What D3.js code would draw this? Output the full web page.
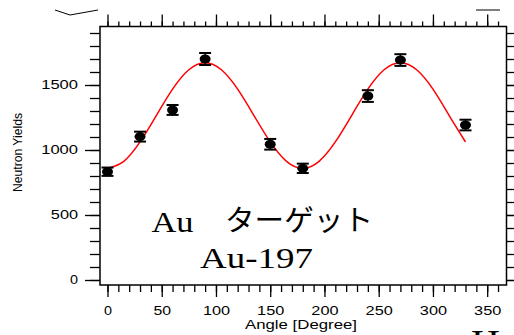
<!DOCTYPE html>
<html>
<head>
<meta charset="utf-8">
<script src="https://cdn.jsdelivr.net/npm/d3@7"></script>
<style>
  body { margin: 0; background: #fff; }
  svg { display: block; }
  .tick text { font-family: "Liberation Sans", Arial, sans-serif; font-size: 12px; fill: #000; }
</style>
</head>
<body>
<div id="svg-area"></div>
<script>
// measured points (angle in degrees, neutron yield, error)
var angles = [0, 30, 60, 90, 150, 180, 240, 270, 330];
var yields = [833, 1103, 1308, 1700, 1044, 859, 1415, 1692, 1192];
var errors = [32, 38, 38, 46, 41, 36, 45, 45, 41];

// red fit curve, read every 15 degrees
var fitAngles = [0, 15, 30, 45, 60, 75, 90, 105, 120, 135, 150, 165, 180, 195, 210, 225, 240, 255, 270, 285, 300, 315, 330];
var fitValues = [859, 913, 1062, 1265, 1468, 1617, 1671, 1617, 1468, 1265, 1062, 913, 859, 913, 1062, 1265, 1468, 1617, 1671, 1617, 1468, 1265, 1062];

var xTicks = [0, 50, 100, 150, 200, 250, 300, 350];
var yTicks = [0, 500, 1000, 1500];

var svgWidth = 514;
var svgHeight = 335;

var frame = { left: 100, right: 506.5, top: 26.5, bottom: 285 };

var svg = d3.select("#svg-area")
  .append("svg")
  .attr("width", svgWidth)
  .attr("height", svgHeight);

var x = d3.scaleLinear()
  .domain([-6.9, 367.8])
  .range([frame.left, frame.right]);

var y = d3.scaleLinear()
  .domain([-38.5, 1950])
  .range([frame.bottom, frame.top]);

// the original labels use a wide gothic font, so stretch them a bit
function stretch(sel) {
  sel.selectAll("text")
    .attr("textLength", d => String(d).length * 9.6 - 1.6)
    .attr("lengthAdjust", "spacingAndGlyphs");
}

var minorX = d3.range(0, 361, 10);
var minorY = d3.range(0, 1901, 100);
var fmt = d3.format("d");

// bottom axis
svg.append("g")
  .attr("transform", `translate(0, ${frame.bottom})`)
  .call(d3.axisBottom(x).tickValues(minorX).tickSize(7).tickFormat(""));
svg.append("g")
  .attr("transform", `translate(0, ${frame.bottom})`)
  .call(d3.axisBottom(x).tickValues(xTicks).tickSize(12).tickPadding(9.5).tickFormat(fmt))
  .call(stretch);

// top axis (ticks only)
svg.append("g")
  .attr("transform", `translate(0, ${frame.top})`)
  .call(d3.axisTop(x).tickValues(minorX).tickSize(5).tickFormat(""));
svg.append("g")
  .attr("transform", `translate(0, ${frame.top})`)
  .call(d3.axisTop(x).tickValues(xTicks).tickSize(12).tickFormat(""));

// left axis
svg.append("g")
  .attr("transform", `translate(${frame.left}, 0)`)
  .call(d3.axisLeft(y).tickValues(minorY).tickSize(10).tickFormat(""));
svg.append("g")
  .attr("transform", `translate(${frame.left}, 0)`)
  .call(d3.axisLeft(y).tickValues(yTicks).tickSize(15).tickPadding(7).tickFormat(fmt))
  .call(stretch);

// right axis (ticks only)
svg.append("g")
  .attr("transform", `translate(${frame.right}, 0)`)
  .call(d3.axisRight(y).tickValues(minorY).tickSize(10).tickFormat(""));
svg.append("g")
  .attr("transform", `translate(${frame.right}, 0)`)
  .call(d3.axisRight(y).tickValues(yTicks).tickSize(15).tickFormat(""));

svg.selectAll(".domain").remove();
svg.selectAll(".tick line").attr("stroke", "#000").attr("stroke-width", 1.3);

// frame
svg.append("rect")
  .attr("x", frame.left)
  .attr("y", frame.top)
  .attr("width", frame.right - frame.left)
  .attr("height", frame.bottom - frame.top)
  .attr("fill", "none")
  .attr("stroke", "#000")
  .attr("stroke-width", 1.5);

// fit curve
var line = d3.line()
  .x((d, i) => x(fitAngles[i]))
  .y(d => y(d))
  .curve(d3.curveNatural);

svg.append("path")
  .datum(fitValues)
  .attr("d", line)
  .attr("fill", "none")
  .attr("stroke", "#ff0000")
  .attr("stroke-width", 1.5);

// error bars + points
var pts = svg.append("g").selectAll("g")
  .data(angles)
  .enter()
  .append("g");

pts.append("line")
  .attr("x1", d => x(d)).attr("x2", d => x(d))
  .attr("y1", (d, i) => y(yields[i] - errors[i]))
  .attr("y2", (d, i) => y(yields[i] + errors[i]))
  .attr("stroke", "#000").attr("stroke-width", 1.5);

[-1, 1].forEach(function(s) {
  pts.append("line")
    .attr("x1", d => x(d) - 6).attr("x2", d => x(d) + 6)
    .attr("y1", (d, i) => y(yields[i] + s * errors[i]))
    .attr("y2", (d, i) => y(yields[i] + s * errors[i]))
    .attr("stroke", "#000").attr("stroke-width", 2);
});

pts.append("ellipse")
  .attr("cx", d => x(d))
  .attr("cy", (d, i) => y(yields[i]))
  .attr("rx", 5.5)
  .attr("ry", 4.5)
  .attr("fill", "#000");

// axis titles
svg.append("text")
  .attr("transform", "translate(22, 152.5) rotate(-90)")
  .attr("text-anchor", "middle")
  .attr("font-family", "Liberation Sans, Arial, sans-serif")
  .attr("font-size", 13)
  .attr("textLength", 79)
  .attr("lengthAdjust", "spacingAndGlyphs")
  .text("Neutron Yields");

svg.append("text")
  .attr("x", 245)
  .attr("y", 329)
  .attr("font-family", "Liberation Sans, Arial, sans-serif")
  .attr("font-size", 12)
  .attr("textLength", 112)
  .attr("lengthAdjust", "spacingAndGlyphs")
  .text("Angle [Degree]");

// annotations
svg.append("text")
  .attr("x", 151.5).attr("y", 231.5)
  .attr("font-family", "Liberation Serif, Times New Roman, serif")
  .attr("font-size", 30)
  .attr("textLength", 42)
  .attr("lengthAdjust", "spacingAndGlyphs")
  .text("Au");

svg.append("text")
  .attr("x", 225).attr("y", 231)
  .attr("font-family", "Noto Sans CJK JP, sans-serif")
  .attr("font-size", 29)
  .attr("textLength", 148)
  .attr("lengthAdjust", "spacingAndGlyphs")
  .text("ターゲット");

svg.append("text")
  .attr("x", 200).attr("y", 268.3)
  .attr("font-family", "Liberation Serif, Times New Roman, serif")
  .attr("font-size", 30)
  .attr("textLength", 113)
  .attr("lengthAdjust", "spacingAndGlyphs")
  .text("Au-197");

// cropped leftovers at the edges
svg.append("polyline")
  .attr("points", "55,10 70,15 98,10")
  .attr("fill", "none").attr("stroke", "#000").attr("stroke-width", 1);
svg.append("line")
  .attr("x1", 476).attr("x2", 500).attr("y1", 10).attr("y2", 10)
  .attr("stroke", "#000").attr("stroke-width", 1);
svg.append("text")
  .attr("x", 471).attr("y", 357)
  .attr("font-family", "Liberation Serif, Times New Roman, serif")
  .attr("font-size", 40)
  .text("H");
</script>
</body>
</html>
